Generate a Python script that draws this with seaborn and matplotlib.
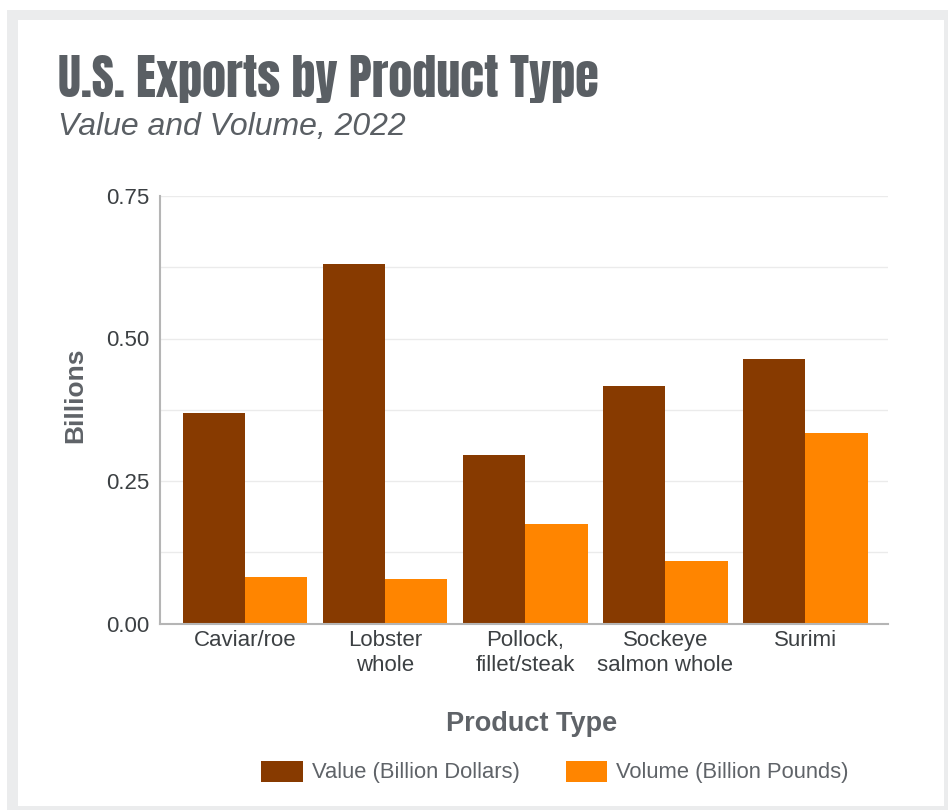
import pandas as pd
import seaborn as sns
import matplotlib.pyplot as plt
from matplotlib.patches import Rectangle
from matplotlib.ticker import MultipleLocator

# values (billions)
products = ['Caviar/roe', 'Lobster\nwhole', 'Pollock,\nfillet/steak',
            'Sockeye\nsalmon whole', 'Surimi']
value_bn_dollars = [0.369, 0.631, 0.296, 0.417, 0.464]
volume_bn_pounds = [0.082, 0.078, 0.175, 0.109, 0.334]
series_names = ['Value (Billion Dollars)', 'Volume (Billion Pounds)']
y_ticks = [0.00, 0.25, 0.50, 0.75]

df = pd.DataFrame({'Product Type': products,
                   series_names[0]: value_bn_dollars,
                   series_names[1]: volume_bn_pounds})
long_df = df.melt(id_vars='Product Type', var_name='Series', value_name='Billions')

sns.set_theme(style='white')
plt.rcParams['font.family'] = ['Liberation Sans', 'DejaVu Sans']

fig = plt.figure(figsize=(9.48, 8.1), dpi=100)
fig.patch.set_facecolor('white')

# light grey card frame
fig.patches.append(Rectangle((7 / 948, 0), 1 - 7 / 948, 1 - 10 / 810,
                             transform=fig.transFigure, facecolor='#ebeced',
                             edgecolor='none', zorder=-10))
fig.patches.append(Rectangle((18 / 948, 4 / 810), (944 - 18) / 948, (806 - 20) / 810,
                             transform=fig.transFigure, facecolor='white',
                             edgecolor='none', zorder=-9))

ax = fig.add_axes([160 / 948, 1 - 623.5 / 810, 728 / 948, 427.5 / 810])
ax.set_facecolor('none')

palette = {series_names[0]: '#873a00', series_names[1]: '#ff8500'}
sns.barplot(data=long_df, x='Product Type', y='Billions', hue='Series',
            palette=palette, width=0.89, gap=0, saturation=1,
            edgecolor='none', ax=ax, legend=True)

ax.set_ylim(0, 0.75)
ax.set_xlim(-0.607, 4.59)
ax.set_yticks(y_ticks)
ax.set_yticklabels([f'{t:.2f}' for t in y_ticks])
ax.yaxis.set_minor_locator(MultipleLocator(0.125))
ax.grid(axis='y', which='both', color='#ebebeb', lw=1)
ax.set_axisbelow(True)
ax.tick_params(axis='both', length=0, labelsize=16, labelcolor='#3c4043')
ax.tick_params(axis='y', which='minor', length=0)
ax.tick_params(axis='x', pad=5)
ax.tick_params(axis='y', pad=8)

for side in ['top', 'right']:
    ax.spines[side].set_visible(False)
for side in ['left', 'bottom']:
    ax.spines[side].set_color('#b5b5b5')
    ax.spines[side].set_linewidth(1.5)

ax.set_xlabel('')
ax.set_ylabel('')

handles, labels = ax.get_legend_handles_labels()
ax.get_legend().remove()
fig.legend(handles, labels, loc='center', bbox_to_anchor=(555 / 948, 1 - 772 / 810),
           ncol=2, frameon=False, fontsize=15.8, labelcolor='#5f6368',
           handlelength=1.9, handleheight=1.1, handletextpad=0.4,
           columnspacing=2.1)

fig.text(75 / 948, 1 - 395.5 / 810, 'Billions', rotation=90, ha='center', va='center',
         fontsize=19, fontweight='bold', color='#5f6368')
fig.text(532 / 948, 1 - 724 / 810, 'Product Type', ha='center', va='center',
         fontsize=19.5, fontweight='bold', color='#5f6368')

fig.text(58 / 948, 1 - 97 / 810, 'U.S. Exports by Product Type', ha='left', va='baseline',
         fontsize=34.7, color='#5a5f64',
         family=['Anton', 'Barlow Condensed', 'Liberation Sans', 'DejaVu Sans'])
fig.text(58 / 948, 1 - 135 / 810, 'Value and Volume, 2022', ha='left', va='baseline',
         fontsize=23, style='italic', color='#5a5f64')

fig.savefig('out.png', dpi=100)
